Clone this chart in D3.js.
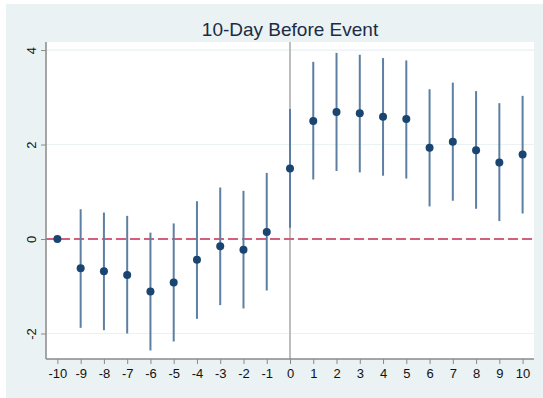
<!DOCTYPE html>
<html>
<head>
<meta charset="utf-8">
<script src="https://cdn.jsdelivr.net/npm/d3@7"></script>
<style>
  body { margin: 0; background: #fff; }
  text { font-family: "Liberation Sans", Arial, sans-serif; }
</style>
</head>
<body>
<div id="chart"></div>
<script>
// event-time coefficients with 95% CI
var days = [-10, -9, -8, -7, -6, -5, -4, -3, -2, -1, 0, 1, 2, 3, 4, 5, 6, 7, 8, 9, 10];
var coef = [0, -0.62, -0.68, -0.76, -1.11, -0.92, -0.44, -0.155, -0.23, 0.15, 1.49,
            2.50, 2.69, 2.66, 2.59, 2.54, 1.93, 2.06, 1.88, 1.62, 1.79];
var ciLow = [0, -1.88, -1.93, -2.00, -2.36, -2.17, -1.69, -1.40, -1.47, -1.09, 0.24,
             1.26, 1.44, 1.41, 1.34, 1.28, 0.69, 0.81, 0.64, 0.38, 0.54];
var ciHigh = [0, 0.63, 0.56, 0.49, 0.135, 0.33, 0.80, 1.09, 1.02, 1.40, 2.75,
              3.75, 3.94, 3.90, 3.83, 3.78, 3.17, 3.31, 3.13, 2.875, 3.03];
var yTicks = [-2, 0, 2, 4];

var W = 543, H = 398;
var plot = { left: 46, right: 534, top: 42, bottom: 359 };

var svg = d3.select("#chart").append("svg")
    .attr("width", W)
    .attr("height", H);

// outer background
svg.append("rect")
    .attr("x", 6).attr("y", 4)
    .attr("width", W - 6).attr("height", H - 4)
    .attr("fill", "#eaf2f3");

svg.append("rect")
    .attr("x", plot.left).attr("y", plot.top)
    .attr("width", plot.right - plot.left).attr("height", plot.bottom - plot.top)
    .attr("fill", "#fff");

var x = d3.scaleLinear().domain([-10.49, 10.49]).range([plot.left, plot.right]);
var y = d3.scaleLinear().domain([-2.54, 4.17]).range([plot.bottom, plot.top]);

//----------------------------
// grid lines
//----------------------------
svg.append("g").selectAll("line")
    .data(yTicks)
    .enter().append("line")
    .attr("x1", plot.left).attr("x2", plot.right)
    .attr("y1", d => y(d)).attr("y2", d => y(d))
    .attr("stroke", "#eaf2f3")
    .attr("stroke-width", 1.2);

// event line at day 0
svg.append("line")
    .attr("x1", x(0)).attr("x2", x(0))
    .attr("y1", plot.top).attr("y2", plot.bottom)
    .attr("stroke", "#bdbdbd")
    .attr("stroke-width", 2);

// zero reference
svg.append("line")
    .attr("x1", plot.left).attr("x2", plot.right)
    .attr("y1", y(0)).attr("y2", y(0))
    .attr("stroke", "#d2607c")
    .attr("stroke-width", 2)
    .attr("stroke-dasharray", "10,4");

//----------------------------
// axes
//----------------------------
var fmt = d => String(d);  // plain hyphen minus, like the original

var yAxis = svg.append("g")
    .attr("transform", "translate(" + plot.left + ",0)")
    .call(d3.axisLeft(y).tickValues(yTicks).tickSize(5).tickFormat(fmt));

// rotated tick labels (inside each tick group, so local coords)
yAxis.selectAll(".tick text")
    .attr("x", 0)
    .attr("y", 0)
    .attr("dy", "0.35em")
    .attr("text-anchor", "middle")
    .attr("transform", "translate(-15,0) rotate(-90)");

var xAxis = svg.append("g")
    .attr("transform", "translate(0," + plot.bottom + ")")
    .call(d3.axisBottom(x).tickValues(days).tickSize(5).tickPadding(5).tickFormat(fmt));

[yAxis, xAxis].forEach(function (g) {
    g.select(".domain").attr("stroke", "#8a8a8a").attr("stroke-width", 1.5);
    g.selectAll(".tick line").attr("stroke", "#8a8a8a");
    g.selectAll("text").attr("fill", "#111").attr("font-size", 13)
        .style("font-family", "'Liberation Sans', Arial, sans-serif");
});
yAxis.select(".domain").attr("d", "M0," + plot.top + "V" + plot.bottom);
xAxis.select(".domain").attr("d", "M" + plot.left + ",0H" + plot.right);

//----------------------------
// CI bars and points
//----------------------------
var rows = days.map((d, i) => ({ day: d, b: coef[i], lo: ciLow[i], hi: ciHigh[i] }));

svg.append("g").selectAll("line")
    .data(rows.filter(d => d.hi !== d.lo))
    .enter().append("line")
    .attr("x1", d => x(d.day)).attr("x2", d => x(d.day))
    .attr("y1", d => y(d.lo)).attr("y2", d => y(d.hi))
    .attr("stroke", "#5c7fa2")
    .attr("stroke-width", 2);

svg.append("g").selectAll("circle")
    .data(rows)
    .enter().append("circle")
    .attr("cx", d => x(d.day))
    .attr("cy", d => y(d.b))
    .attr("r", 4)
    .attr("fill", "#1a4570");

svg.append("text")
    .attr("x", (plot.left + plot.right) / 2)
    .attr("y", 36)
    .attr("text-anchor", "middle")
    .attr("font-size", 19)
    .attr("fill", "#1c2b44")
    .text("10-Day Before Event");
</script>
</body>
</html>
